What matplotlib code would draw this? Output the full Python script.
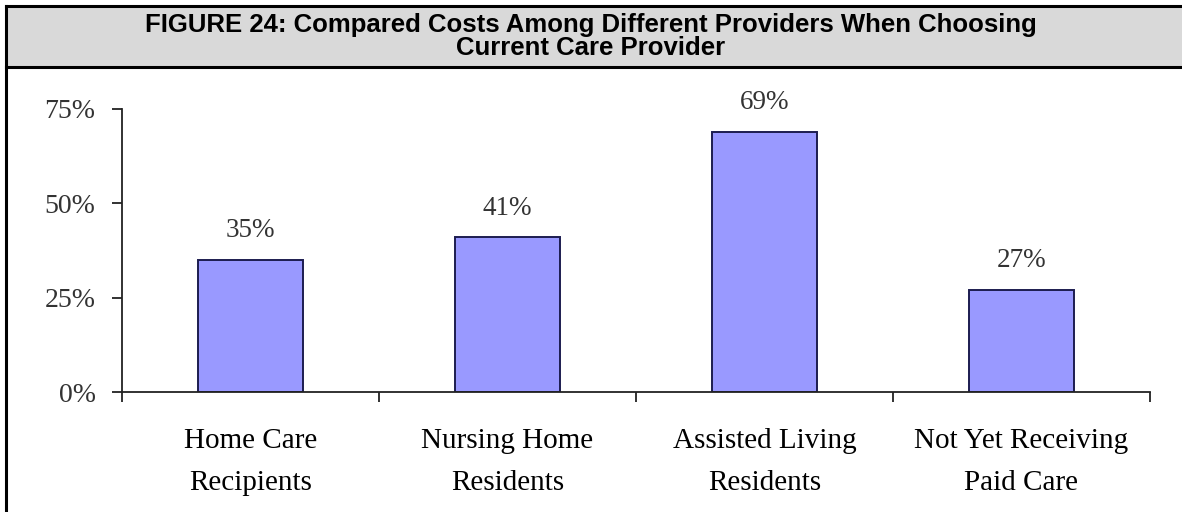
import matplotlib.pyplot as plt
from matplotlib.patches import Rectangle
from matplotlib.lines import Line2D
from matplotlib.ticker import FixedLocator, PercentFormatter

# data
categories = ["Home Care\nRecipients", "Nursing Home\nResidents",
              "Assisted Living\nResidents", "Not Yet Receiving\nPaid Care"]
values = [35, 41, 69, 27]
y_ticks = [0, 25, 50, 75]
title_lines = ["FIGURE 24: Compared Costs Among Different Providers When Choosing",
               "Current Care Provider"]

W, H = 1182, 512
fig = plt.figure(figsize=(W / 100, H / 100), dpi=100)

# grey header band with frame lines
hdr_top, hdr_bot = 6, 67
fig.patches.append(Rectangle((6 / W, 1 - hdr_bot / H), 1, (hdr_bot - hdr_top) / H,
                             transform=fig.transFigure, facecolor="#d9d9d9",
                             edgecolor="none", zorder=0))
for y in (hdr_top, hdr_bot):
    fig.add_artist(Line2D([6 / W, 1], [1 - y / H] * 2, transform=fig.transFigure,
                          color="black", lw=2.2))
fig.add_artist(Line2D([6 / W] * 2, [0, 1 - hdr_top / H], transform=fig.transFigure,
                      color="black", lw=2.2))

# two title lines, baselines in pixels from the top
for line, base in zip(title_lines, (32, 55)):
    fig.text(0.5, 1 - base / H, line, ha="center", va="baseline", fontsize=18.5,
             fontweight="bold", family="Liberation Sans")

# plot area
left, right, bottom, top = 122, 1150, 392, 109
ax = fig.add_axes([left / W, 1 - bottom / H, (right - left) / W, (bottom - top) / H])

x = range(len(values))
bars = ax.bar(x, values, width=0.41, color="#9999ff", edgecolor="#1c1c50", linewidth=1.4)

for b, v in zip(bars, values):
    ax.annotate(f"{v}%", (b.get_x() + b.get_width() / 2, v), xytext=(0, 12),
                textcoords="offset points", ha="center", va="bottom",
                fontsize=19.5, family="Liberation Serif", color="#333333")

ax.set_xlim(-0.5, len(values) - 0.5)
ax.set_ylim(0, 75)
ax.spines["top"].set_visible(False)
ax.spines["right"].set_visible(False)
for s in ("left", "bottom"):
    ax.spines[s].set_linewidth(1.3)
    ax.spines[s].set_color("#222222")

ax.set_yticks(y_ticks)
ax.yaxis.set_major_formatter(PercentFormatter(decimals=0))
ax.tick_params(axis="y", length=7, width=1.3, pad=12, labelsize=20,
               labelcolor="#333333", color="#222222")
for t in ax.get_yticklabels():
    t.set_family("Liberation Serif")

ax.xaxis.set_major_locator(FixedLocator([i - 0.5 for i in range(len(values) + 1)]))
ax.xaxis.set_minor_locator(FixedLocator(list(x)))
ax.set_xticklabels([], minor=False)
ax.set_xticklabels(categories, minor=True, fontsize=21, family="Liberation Serif",
                   linespacing=1.8)
ax.tick_params(axis="x", which="minor", length=0, pad=26)
ax.tick_params(axis="x", which="major", length=7, width=1.3, color="#222222")

fig.savefig("out.png", dpi=100)
